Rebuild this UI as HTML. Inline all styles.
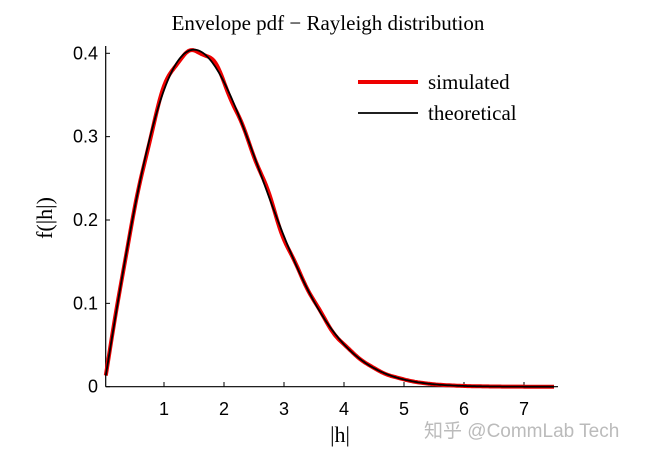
<!DOCTYPE html>
<html><head><meta charset="utf-8"><style>
body{margin:0;background:#fff}
svg{display:block}
</style></head><body>
<svg id="s" width="645" height="457" xmlns="http://www.w3.org/2000/svg">
<rect width="645" height="457" fill="#fff"/>
<text x="328" y="30" text-anchor="middle" font-family="Liberation Serif, serif" font-size="21">Envelope pdf − Rayleigh distribution</text>
<line x1="105.7" y1="386.7" x2="558" y2="386.7" stroke="#000" stroke-width="1.2"/>
<line x1="105.7" y1="46" x2="105.7" y2="386.7" stroke="#000" stroke-width="1.2"/>
<g id="ticks" font-family="Liberation Sans, sans-serif" font-size="18"></g>
<path id="sim" fill="none" stroke="#e00" stroke-width="4" stroke-linejoin="round"/>
<path id="th" fill="none" stroke="#000" stroke-width="1.8"/>
<line x1="358" y1="82" x2="418" y2="82" stroke="#e00" stroke-width="4"/>
<text x="428" y="89" font-family="Liberation Serif, serif" font-size="21">simulated</text>
<line x1="358" y1="113" x2="418" y2="113" stroke="#000" stroke-width="1.8"/>
<text x="428" y="120" font-family="Liberation Serif, serif" font-size="21">theoretical</text>
<text x="340" y="442" text-anchor="middle" font-family="Liberation Serif, serif" font-size="22">|h|</text>
<text transform="translate(52,218) rotate(-90)" text-anchor="middle" font-family="Liberation Serif, serif" font-size="22">f(|h|)</text>
<text x="424" y="437" font-family="Liberation Sans, 'Noto Sans CJK SC', sans-serif" font-size="19" fill="#bbb">知乎 @CommLab Tech</text>
</svg>
<script>
var X=function(v){return 104+60*v},Y=function(v){return 386.7-833.5*v};
var g=document.getElementById('ticks'),h='';
for(var i=1;i<=7;i++){h+='<line x1="'+X(i)+'" y1="386.7" x2="'+X(i)+'" y2="382" stroke="#000"/><text x="'+X(i)+'" y="415" text-anchor="middle">'+i+'</text>';}
for(var j=0;j<=4;j++){var y=Y(j/10);h+='<line x1="105.7" y1="'+y+'" x2="110" y2="'+y+'" stroke="#000"/><text x="98" y="'+(y+6)+'" text-anchor="end">'+(j==0?'0':(j/10).toFixed(1))+'</text>';}
g.innerHTML=h;
function f(x){return x/2.25*Math.exp(-x*x/4.5);}
var a='',b='';
for(var k=0;k<=300;k++){var x=0.03+k*0.025;if(x>7.5)x=7.5;
a+=(k?'L':'M')+X(x).toFixed(1)+','+Y(f(x)).toFixed(1);
var n=0.005*Math.sin(x*11)*Math.cos(x*3.3)*Math.min(1,f(x)*5);
b+=(k?'L':'M')+X(x).toFixed(1)+','+Y(Math.max(0,f(x)+n)).toFixed(1);}
document.getElementById('th').setAttribute('d',a);
document.getElementById('sim').setAttribute('d',b);
</script>
</body></html>
